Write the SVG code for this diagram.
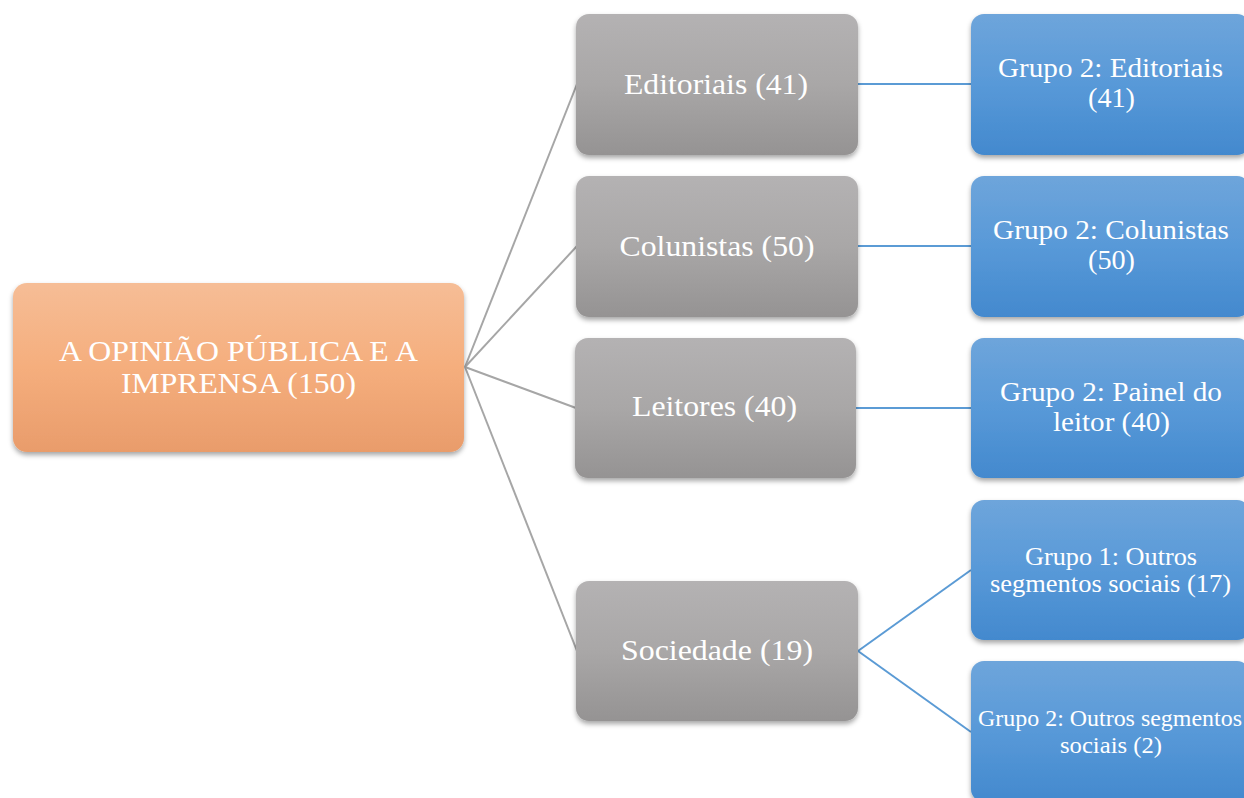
<svg xmlns="http://www.w3.org/2000/svg" width="1244" height="798" viewBox="0 0 1244 798">
  <defs>
    <linearGradient id="gOrange" x1="0" y1="0" x2="0" y2="1">
      <stop offset="0" stop-color="#F6BD96"/>
      <stop offset="0.5" stop-color="#F5AE7D"/>
      <stop offset="1" stop-color="#E99C6B"/>
    </linearGradient>
    <linearGradient id="gGray" x1="0" y1="0" x2="0" y2="1">
      <stop offset="0" stop-color="#B4B2B3"/>
      <stop offset="0.5" stop-color="#A9A7A7"/>
      <stop offset="1" stop-color="#959393"/>
    </linearGradient>
    <linearGradient id="gBlue" x1="0" y1="0" x2="0" y2="1">
      <stop offset="0" stop-color="#6EA5DB"/>
      <stop offset="0.5" stop-color="#5899D8"/>
      <stop offset="1" stop-color="#4389CE"/>
    </linearGradient>
    <filter id="shadow" x="-10%" y="-10%" width="120%" height="130%">
      <feDropShadow dx="0" dy="3" stdDeviation="2.5" flood-color="#000" flood-opacity="0.35"/>
    </filter>
  </defs>
  <style>
    .box { filter: url(#shadow); }
    .root { fill: url(#gOrange); }
    .cat { fill: url(#gGray); }
    .grp { fill: url(#gBlue); }
    text { font-family: "Liberation Serif", "Times New Roman", serif; fill: #FFFFFF; text-anchor: middle; }
    .t30 { font-size: 30px; }
    .t27 { font-size: 27px; }
    .t25 { font-size: 25px; }
    .t24 { font-size: 24px; }
    .lg { fill: none; stroke: #A6A6A6; stroke-width: 2; }
    .lb { fill: none; stroke: #5B9BD5; stroke-width: 2; }
  </style>

  <rect width="1244" height="798" fill="#FFFFFF"/>

  <!-- connectors -->
  <g id="connectors">
    <line class="lg" x1="465" y1="367" x2="577" y2="84"/>
    <line class="lg" x1="465" y1="367" x2="577" y2="246"/>
    <line class="lg" x1="465" y1="367" x2="576" y2="408"/>
    <line class="lg" x1="465" y1="367" x2="577" y2="651"/>
    <line class="lb" x1="858" y1="84" x2="971" y2="84"/>
    <line class="lb" x1="858" y1="246" x2="971" y2="246"/>
    <line class="lb" x1="856" y1="408" x2="971" y2="408"/>
    <line class="lb" x1="858" y1="651" x2="971" y2="570"/>
    <line class="lb" x1="858" y1="651" x2="971" y2="732"/>
  </g>

  <!-- root -->
  <g id="root" font-family="'Liberation Serif', serif">
    <rect class="box root" x="13" y="283" width="451" height="169" rx="14"/>
    <text class="t30" x="238.5" y="361" textLength="359" lengthAdjust="spacingAndGlyphs">A OPINIÃO PÚBLICA E A</text>
    <text class="t30" x="238.5" y="393" textLength="235" lengthAdjust="spacingAndGlyphs">IMPRENSA (150)</text>
  </g>

  <!-- categories -->
  <g id="editoriais">
    <rect class="box cat" x="576" y="14" width="282" height="141" rx="13"/>
    <text class="t30" x="716" y="94" textLength="184" lengthAdjust="spacingAndGlyphs">Editoriais (41)</text>
  </g>
  <g id="colunistas">
    <rect class="box cat" x="576" y="176" width="282" height="141" rx="13"/>
    <text class="t30" x="717" y="256" textLength="195" lengthAdjust="spacingAndGlyphs">Colunistas (50)</text>
  </g>
  <g id="leitores">
    <rect class="box cat" x="575" y="338" width="281" height="140" rx="13"/>
    <text class="t30" x="714.5" y="416" textLength="165" lengthAdjust="spacingAndGlyphs">Leitores (40)</text>
  </g>
  <g id="sociedade">
    <rect class="box cat" x="576" y="581" width="282" height="140" rx="13"/>
    <text class="t30" x="717" y="660" textLength="192" lengthAdjust="spacingAndGlyphs">Sociedade (19)</text>
  </g>

  <!-- groups -->
  <g id="g2-editoriais">
    <rect class="box grp" x="971" y="14" width="279" height="141" rx="13"/>
    <text class="t27" x="1110.5" y="77" textLength="225" lengthAdjust="spacingAndGlyphs">Grupo 2: Editoriais</text>
    <text class="t27" x="1111.5" y="107" textLength="47" lengthAdjust="spacingAndGlyphs">(41)</text>
  </g>
  <g id="g2-colunistas">
    <rect class="box grp" x="971" y="176" width="279" height="141" rx="13"/>
    <text class="t27" x="1111" y="239" textLength="236" lengthAdjust="spacingAndGlyphs">Grupo 2: Colunistas</text>
    <text class="t27" x="1111.5" y="269" textLength="47" lengthAdjust="spacingAndGlyphs">(50)</text>
  </g>
  <g id="g2-leitor">
    <rect class="box grp" x="971" y="338" width="279" height="140" rx="13"/>
    <text class="t27" x="1111" y="401" textLength="222" lengthAdjust="spacingAndGlyphs">Grupo 2: Painel do</text>
    <text class="t27" x="1111.5" y="431" textLength="117" lengthAdjust="spacingAndGlyphs">leitor (40)</text>
  </g>
  <g id="g1-outros">
    <rect class="box grp" x="971" y="500" width="279" height="140" rx="13"/>
    <text class="t25" x="1111" y="565" textLength="172" lengthAdjust="spacingAndGlyphs">Grupo 1: Outros</text>
    <text class="t25" x="1110.5" y="592" textLength="241" lengthAdjust="spacingAndGlyphs">segmentos sociais (17)</text>
  </g>
  <g id="g2-outros">
    <rect class="box grp" x="971" y="661" width="279" height="141" rx="13"/>
    <text class="t24" x="1110" y="726" textLength="264" lengthAdjust="spacingAndGlyphs">Grupo 2: Outros segmentos</text>
    <text class="t24" x="1111" y="753" textLength="102" lengthAdjust="spacingAndGlyphs">sociais (2)</text>
  </g>
</svg>
